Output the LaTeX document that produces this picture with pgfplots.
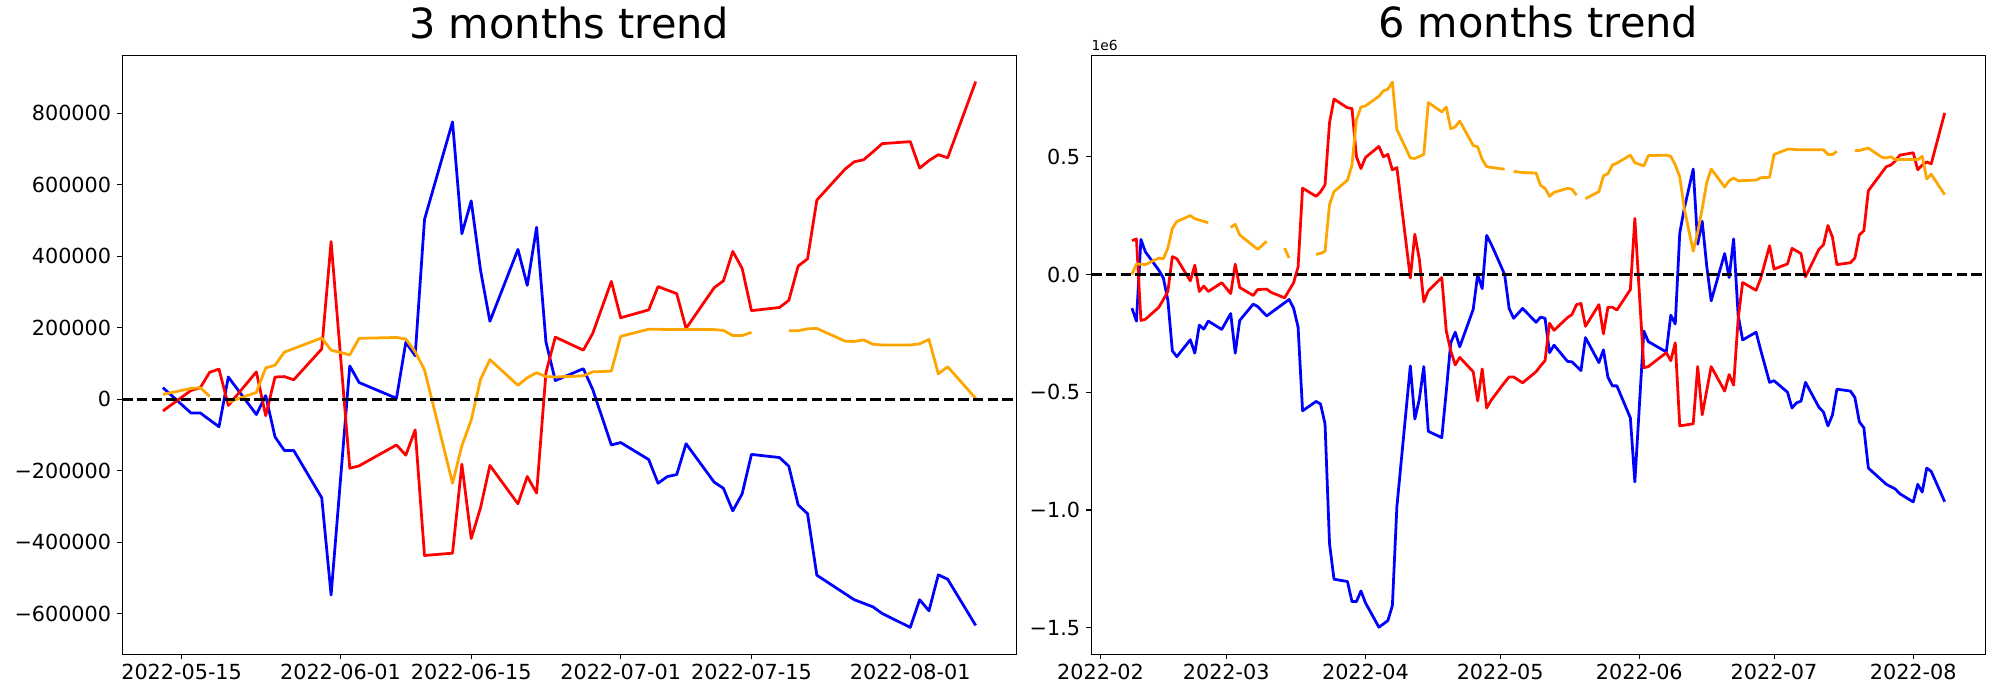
\documentclass[border=0pt]{standalone}
\usepackage{fontspec}
\setmainfont{DejaVu Sans}
\usepackage{pgfplots}
\pgfplotsset{compat=1.18}
\definecolor{mplorange}{RGB}{255,165,0}
\pgfplotsset{
  trend/.style={
    scale only axis, width=8.94in, height=5.99in,
    axis line style={line width=0.8pt},
    tick align=outside, tick pos=left,
    major tick length=0.049in,
    every tick/.style={black, line width=0.8pt},
    ticklabel style={font=\fontsize{15}{18}\selectfont, inner sep=0pt},
    xticklabel style={yshift=-0.05in},
    yticklabel style={xshift=-0.06in},
    /pgf/number format/assume math mode=true,
    unbounded coords=jump,
    title style={at={(0.5,1)}, anchor=base, yshift=0.09in, font=\fontsize{30}{36}\selectfont},
    scaled y ticks=false, scaled x ticks=false,
  },
  mline/.style={line width=2pt, line join=round, mark=none},
  zline/.style={black, line width=2pt, dash pattern=on 7.4pt off 3.2pt, mark=none},
}
\begin{document}
\begin{tikzpicture}
\path[use as bounding box] (0,0) rectangle (20in,7in);
\begin{axis}[trend, name=left, at={(1.223in,0.457in)}, anchor=south west,
  title={3 months trend},
  xmin=-6.35, xmax=89.35, ymin=-714000, ymax=962000,
  xtick={0,17,31,47,61,78},
  xticklabels={2022-05-15,2022-06-01,2022-06-15,2022-07-01,2022-07-15,2022-08-01},
  ytick={-600000,-400000,-200000,0,200000,400000,600000,800000},
  yticklabels={−600000,−400000,−200000,0,200000,400000,600000,800000},
]
% blue
\addplot[mline, blue] coordinates {
(-2,32000)(1,-38700)(2,-38700)(4,-77400)(5,61900)(8,-43100)(9,9900)(10,-106000)
(11,-143700)(12,-143700)(15,-276000)(16,-548000)(18,92800)(19,46400)(23,2200)
(24,159000)(25,121500)(26,502800)(29,775700)(30,463000)(31,554700)(32,360200)
(33,217700)(36,418800)(37,318200)(38,480700)(39,160200)(40,51900)(43,85100)
(44,27600)(46,-128200)(47,-121500)(50,-169100)(51,-235400)(52,-216600)(53,-211100)
(54,-124900)(57,-232100)(58,-249700)(59,-312700)(60,-265200)(61,-154700)(64,-163500)
(65,-187900)(66,-296100)(67,-320500)(68,-492800)(72,-561300)(74,-581200)(75,-600000)
(78,-638700)(79,-561300)(80,-592300)(81,-491700)(82,-503900)(85,-633200)
};
% red
\addplot[mline, red] coordinates {
(-2,-33200)(1,24300)(2,32000)(3,75100)(4,84000)(5,-17700)(8,76200)(9,-46400)
(10,61900)(11,63000)(12,54100)(15,140300)(16,440900)(18,-193400)(19,-186700)
(23,-128200)(24,-156900)(25,-86200)(26,-437600)(29,-431000)(30,-182300)(31,-390100)
(32,-303900)(33,-185600)(36,-292800)(37,-216600)(38,-263000)(39,74000)(40,173500)
(43,137000)(44,183400)(46,329300)(47,227600)(50,249700)(51,314900)(53,295000)
(54,197800)(57,311600)(58,331000)(59,413300)(60,365800)(61,247500)(64,256400)
(65,276300)(66,372400)(67,392300)(68,556900)(71,643100)(72,664100)(73,669600)
(74,691700)(75,714900)(78,720500)(79,646400)(80,667400)(81,684000)(82,675200)(85,888400)
};
% orange
\addplot[mline, mplorange] coordinates {
(-2,13300)(1,29800)(2,32000)(3,7700)(4,nan)(5,-8800)(8,18800)(9,87300)(10,95000)
(11,131500)(15,171300)(16,137000)(18,123800)(19,170200)(23,172400)(24,168000)
(25,132600)(26,81800)(29,-235400)(30,-130400)(31,-58600)(32,55200)(33,110500)
(36,38700)(37,59700)(38,74000)(39,63000)(40,61900)(43,65200)(44,76200)(46,78500)
(47,175700)(50,195600)(51,195600)(52,194500)(53,194500)(54,194500)(57,194500)
(58,192300)(59,177900)(60,177900)(61,186700)(64,nan)(65,191200)(66,191200)
(67,196700)(68,197800)(71,162400)(72,161300)(73,165800)(74,153600)(75,151400)
(78,151400)(79,154700)(80,166900)(81,70700)(82,90600)(85,2200)
};
\addplot[zline] coordinates {(-6.35,0)(89.35,0)};
\end{axis}

\begin{axis}[trend, name=right, at={(10.913in,0.457in)}, anchor=south west,
  title={6 months trend},
  xmin=-2.05, xmax=197.05, ymin=-1.613, ymax=0.931,
  xtick={0,28,59,89,120,150,181},
  xticklabels={2022-02,2022-03,2022-04,2022-05,2022-06,2022-07,2022-08},
  ytick={-1.5,-1,-0.5,0,0.5},
  yticklabels={−1.5,−1.0,−0.5,0.0,0.5},
]
% blue
\addplot[mline, blue] coordinates {
(7,-0.143)(8,-0.198)(9,0.149)(10,0.096)(13,0.018)(14,-0.015)(15,-0.109)(16,-0.324)
(17,-0.349)(20,-0.277)(21,-0.334)(22,-0.215)(23,-0.232)(24,-0.198)(27,-0.233)
(29,-0.166)(30,-0.334)(31,-0.195)(34,-0.126)(35,-0.136)(37,-0.176)(42,-0.106)
(43,-0.143)(44,-0.223)(45,-0.579)(48,-0.539)(49,-0.550)(50,-0.634)(51,-1.143)
(52,-1.294)(55,-1.304)(56,-1.389)(57,-1.389)(58,-1.344)(59,-1.394)(62,-1.498)
(64,-1.470)(65,-1.406)(66,-0.987)(69,-0.388)(70,-0.614)(71,-0.530)(72,-0.391)
(73,-0.666)(76,-0.693)(77,-0.497)(78,-0.290)(79,-0.245)(80,-0.307)(83,-0.148)
(84,0.000)(85,-0.060)(86,0.166)(87,0.129)(88,0.087)(90,0.000)(91,-0.144)(92,-0.186)
(94,-0.144)(97,-0.203)(98,-0.181)(99,-0.186)(100,-0.332)(101,-0.300)(104,-0.369)
(105,-0.371)(107,-0.408)(108,-0.268)(111,-0.374)(112,-0.320)(113,-0.436)(114,-0.473)
(115,-0.473)(118,-0.609)(119,-0.881)(121,-0.240)(122,-0.285)(126,-0.329)(127,-0.173)
(128,-0.210)(129,0.176)(130,0.280)(132,0.448)(133,0.129)(134,0.226)(135,0.037)
(136,-0.112)(139,0.089)(140,-0.013)(141,0.151)(142,-0.172)(143,-0.278)(146,-0.245)
(147,-0.319)(149,-0.458)(150,-0.451)(153,-0.500)(154,-0.567)(155,-0.545)(156,-0.538)
(157,-0.458)(160,-0.564)(161,-0.584)(162,-0.643)(163,-0.597)(164,-0.487)(167,-0.495)
(168,-0.522)(169,-0.626)(170,-0.651)(171,-0.822)(175,-0.891)(177,-0.911)(178,-0.931)
(181,-0.966)(182,-0.891)(183,-0.924)(184,-0.822)(185,-0.836)(188,-0.965)
};
% red
\addplot[mline, red] coordinates {
(7,0.144)(8,0.151)(9,-0.195)(10,-0.190)(13,-0.139)(14,-0.106)(15,-0.072)(16,0.076)
(17,0.067)(20,-0.027)(21,0.040)(22,-0.072)(23,-0.049)(24,-0.072)(27,-0.035)
(29,-0.081)(30,0.044)(31,-0.055)(34,-0.089)(35,-0.064)(37,-0.062)(38,-0.076)
(41,-0.099)(43,-0.035)(44,0.032)(45,0.367)(48,0.332)(49,0.351)(50,0.381)(51,0.644)
(52,0.745)(55,0.708)(56,0.705)(57,0.500)(58,0.450)(59,0.497)(62,0.544)(63,0.500)
(64,0.510)(65,0.444)(66,0.454)(69,-0.015)(70,0.171)(71,0.065)(72,-0.116)(73,-0.069)
(76,-0.013)(77,-0.240)(78,-0.324)(79,-0.384)(80,-0.352)(83,-0.413)(84,-0.537)
(85,-0.401)(86,-0.567)(87,-0.534)(90,-0.458)(91,-0.435)(92,-0.435)(94,-0.460)
(97,-0.413)(98,-0.388)(99,-0.366)(100,-0.207)(101,-0.237)(104,-0.183)(105,-0.170)
(106,-0.128)(107,-0.123)(108,-0.220)(111,-0.128)(112,-0.252)(113,-0.139)(114,-0.139)
(115,-0.151)(118,-0.064)(119,0.238)(121,-0.396)(122,-0.391)(126,-0.332)(127,-0.366)
(128,-0.290)(129,-0.643)(132,-0.634)(133,-0.391)(134,-0.596)(136,-0.391)(139,-0.495)
(140,-0.425)(141,-0.470)(142,-0.190)(143,-0.034)(146,-0.067)(147,-0.018)(149,0.122)
(150,0.023)(153,0.045)(154,0.111)(156,0.089)(157,-0.010)(160,0.107)(161,0.126)
(162,0.208)(163,0.159)(164,0.042)(167,0.050)(168,0.070)(169,0.168)(170,0.186)
(171,0.356)(175,0.458)(176,0.465)(177,0.482)(178,0.507)(181,0.517)(182,0.445)
(183,0.465)(184,0.478)(185,0.470)(188,0.686)
};
% orange
\addplot[mline, mplorange] coordinates {
(7,0.000)(8,0.045)(10,0.042)(13,0.070)(14,0.067)(15,0.112)(16,0.196)(17,0.225)
(20,0.250)(21,0.237)(24,0.220)(27,nan)(29,0.200)(30,0.213)(31,0.168)(35,0.107)
(37,0.141)(38,nan)(41,0.112)(42,0.070)(45,nan)(48,0.086)(49,0.089)(50,0.099)
(51,0.297)(52,0.352)(55,0.401)(56,0.465)(57,0.658)(58,0.711)(59,0.716)(62,0.757)
(63,0.780)(64,0.787)(65,0.817)(66,0.616)(69,0.495)(70,0.493)(72,0.510)(73,0.730)
(76,0.691)(77,0.711)(78,0.619)(79,0.627)(80,0.652)(83,0.548)(84,0.542)(85,0.489)
(86,0.458)(87,0.455)(90,0.447)(91,nan)(92,0.438)(94,0.433)(97,0.431)(98,0.379)
(99,0.366)(100,0.332)(101,0.349)(104,0.366)(105,0.362)(106,0.337)(107,nan)
(108,0.322)(111,0.352)(112,0.419)(113,0.428)(114,0.465)(115,0.473)(118,0.507)
(119,0.475)(121,0.461)(122,0.505)(126,0.507)(127,0.502)(128,0.465)(129,0.415)
(130,0.281)(132,0.099)(133,0.180)(134,0.280)(135,0.389)(136,0.448)(139,0.372)
(140,0.398)(141,0.410)(142,0.398)(146,0.401)(147,0.411)(149,0.413)(150,0.510)
(153,0.532)(154,0.532)(155,0.530)(156,0.530)(160,0.530)(161,0.530)(162,0.510)
(163,0.510)(164,0.523)(167,nan)(168,0.527)(169,0.527)(171,0.537)(174,0.498)
(175,0.495)(176,0.500)(177,0.488)(181,0.488)(182,0.488)(183,0.502)(184,0.406)
(185,0.426)(188,0.339)
};
\addplot[zline] coordinates {(-2.05,0)(197.05,0)};
\end{axis}
\node[anchor=base west, inner sep=0pt, font=\fontsize{10}{12}\selectfont] at ([yshift=0.043in]right.north west) {1e6};
\end{tikzpicture}
\end{document}
